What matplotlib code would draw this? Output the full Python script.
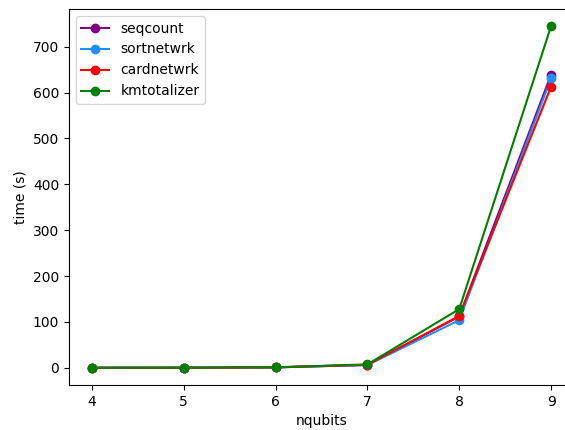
import matplotlib
matplotlib.use("Agg")
import matplotlib.pyplot as plt

nqubits = [4, 5, 6, 7, 8, 9]
seqcount = [0.1, 0.3, 1.0, 6.5, 112, 639]
sortnetwrk = [0.1, 0.3, 1.0, 6.0, 104, 631]
cardnetwrk = [0.1, 0.3, 1.0, 6.5, 113, 613]
kmtotalizer = [0.1, 0.3, 1.0, 7.5, 128, 745]

fig = plt.figure(figsize=(5.65, 4.3), dpi=100)
# the original was cropped on the right, so the axes run past the edge
fig.subplots_adjust(left=0.122, right=1.016, top=0.979, bottom=0.105)
ax = fig.add_subplot(111)
ax.plot(nqubits, seqcount, marker="o", color="purple", label="seqcount")
ax.plot(nqubits, sortnetwrk, marker="o", color="dodgerblue", label="sortnetwrk")
ax.plot(nqubits, cardnetwrk, marker="o", color="red", label="cardnetwrk")
ax.plot(nqubits, kmtotalizer, marker="o", color="green", label="kmtotalizer")
ax.set_xlabel("nqubits")
ax.set_ylabel("time (s)")
ax.legend(loc="upper left")
fig.savefig("out.png", dpi=100)
